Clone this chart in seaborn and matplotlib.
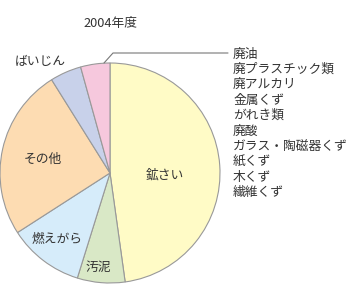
import matplotlib
matplotlib.use("Agg")
import matplotlib.pyplot as plt
import seaborn as sns

# data (percent of total)
categories = ["鉱さい", "汚泥", "燃えがら", "その他", "ばいじん", "その他品目"]
shares = [47.8, 7.0, 11.1, 25.2, 4.6, 4.3]
colors = ["#fffbc6", "#d9e8c6", "#d6ecfa", "#fddcb2", "#c8d1ea", "#f6c8dd"]
other_items = ["廃油", "廃プラスチック類", "廃アルカリ", "金属くず", "がれき類",
               "廃酸", "ガラス・陶磁器くず", "紙くず", "木くず", "繊維くず"]
title = "2004年度"

sns.set_theme(style="white")
plt.rcParams['font.family'] = ['Noto Sans CJK JP', 'DejaVu Sans']

fig = plt.figure(figsize=(3.5, 3.0), dpi=100)
ax = fig.add_axes([0, 0, 1, 1])

wedges, _ = ax.pie(shares, colors=colors, startangle=90, counterclock=False,
                   center=(110, 127), radius=110,
                   wedgeprops=dict(edgecolor="#999999", linewidth=0.8))
ax.set_xlim(0, 350)
ax.set_ylim(0, 300)
ax.set_aspect('equal')
ax.axis('off')

txt = "#333333"
fs = 9.2
ax.text(110, 277, title, ha='center', va='center', fontsize=fs, color=txt)
ax.text(165, 125, "鉱さい", ha='center', va='center', fontsize=fs, color=txt)
ax.text(98, 33, "汚泥", ha='center', va='center', fontsize=fs, color=txt)
ax.text(57, 61, "燃えがら", ha='center', va='center', fontsize=fs, color=txt)
ax.text(43, 141, "その他", ha='center', va='center', fontsize=fs, color=txt)
ax.text(40, 239, "ばいじん", ha='center', va='center', fontsize=fs, color=txt)

# leader line from the small pink slice to the list
ax.plot([104, 113, 228], [237, 247, 247], color="#777777", lw=0.8)
for i, item in enumerate(other_items):
    ax.text(233, 246 - i * 15.4, item, ha='left', va='center', fontsize=fs, color=txt)

fig.savefig("out.png", dpi=100)
